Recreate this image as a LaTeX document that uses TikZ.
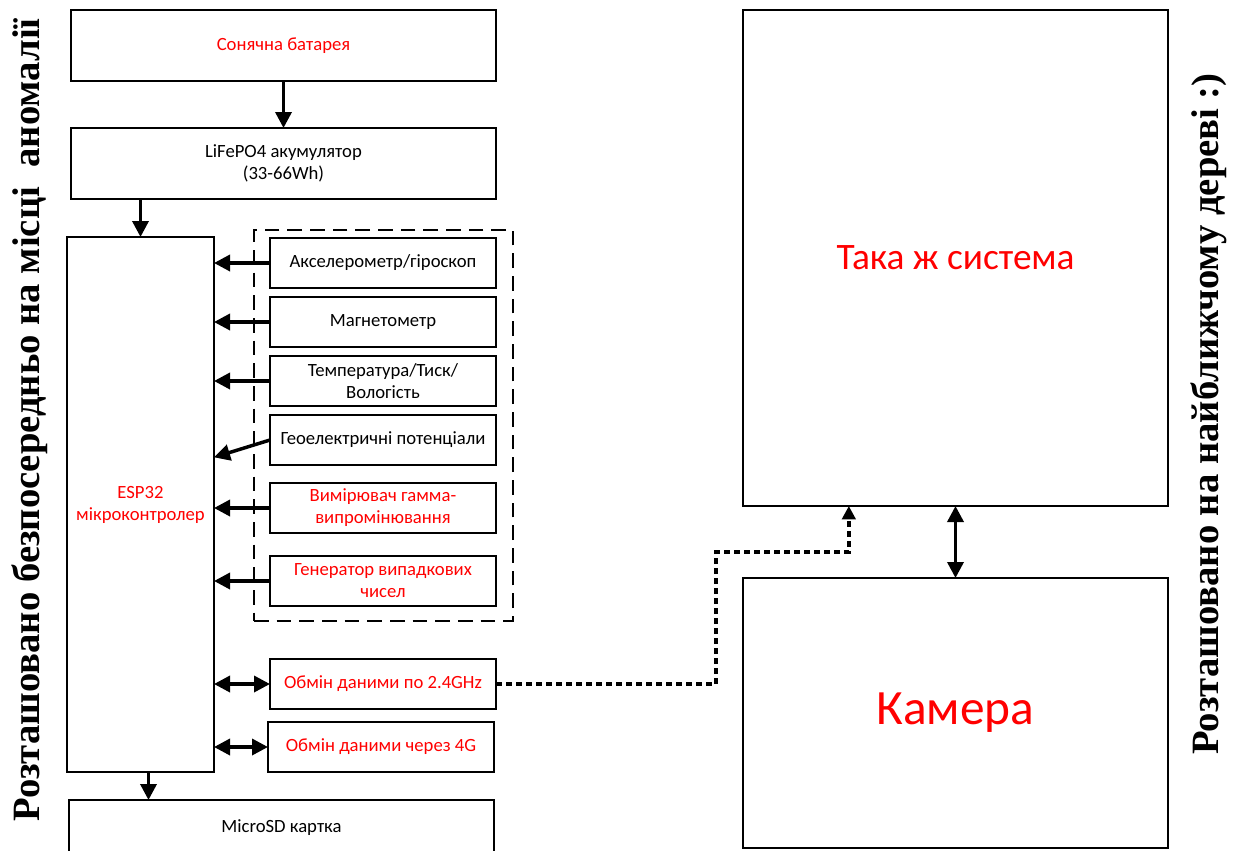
\documentclass[tikz,border=0pt]{standalone}
\usepackage{fontspec}
\setmainfont{Carlito}
\newfontfamily\titlefont{Liberation Serif}
\usepackage{tikz}
\usetikzlibrary{arrows.meta, positioning, fit}
\definecolor{LabelRed}{HTML}{FF0000}
\tikzset{
  blockbox/.style={rectangle, draw=black, line width=1.4pt, inner sep=2pt, outer sep=0pt, minimum width=318.75pt, minimum height=53.25pt, font=\fontsize{14}{16.5}\selectfont, align=center},
  sensorbox/.style={blockbox, minimum width=169.5pt, minimum height=37.5pt},
  redtext/.style={text=LabelRed},
  groupbox/.style={rectangle, draw=black, line width=1.3pt, dash pattern=on 11pt off 6pt, inner sep=0pt},
  arrow/.style={-{Triangle[length=12pt,width=12pt]}, line width=2.6pt},
  twoarrow/.style={{Triangle[length=12pt,width=12pt]}-{Triangle[length=12pt,width=12pt]}, line width=2.6pt},
  linkarrow/.style={-{Triangle[length=10pt,width=10pt]}, line width=2.6pt, dash pattern=on 4.5pt off 3pt},
  sidetitle/.style={rotate=90, anchor=base, font=\titlefont\bfseries\fontsize{29}{30}\selectfont}
}

\begin{document}
\begin{tikzpicture}[x=0.75pt, y=-0.75pt]
  \useasboundingbox (0,0) rectangle (1246,850);

  % power chain
  \node[blockbox, redtext] (solar) at (283.5,45.5) {Сонячна батарея};
  \node[blockbox, below=35.25pt of solar] (battery) {LiFePO4 акумулятор\\(33-66Wh)};
  \node[blockbox, redtext, minimum width=110.25pt, minimum height=401.25pt] (esp) at (140.5,504.5) {ESP32\\мікроконтролер};

  % sensors
  \node[sensorbox] (accel) at (383,263) {Акселерометр/гіроскоп};
  \node[sensorbox, below=6.75pt of accel] (magnet) {Магнетометр};
  \node[sensorbox, below=6.75pt of magnet] (climate) {Температура/Тиск/\\Вологість};
  \node[sensorbox, below=6.75pt of climate] (geo) {Геоелектричні потенціали};
  \node[sensorbox, redtext, below=13.5pt of geo] (gamma) {Вимірювач гамма-\\випромінювання};
  \node[sensorbox, redtext, below=17.25pt of gamma] (random) {Генератор випадкових\\чисел};
  \node[groupbox, fit={([xshift=-12pt,yshift=6pt]accel.north west) ([xshift=13pt,yshift=-11pt]random.south east)}] (sensors) {};

  % links and storage
  \node[sensorbox, redtext] (wifi) at (383,684) {Обмін даними по 2.4GHz};
  \node[sensorbox, redtext] (lte) at (381,747) {Обмін даними через 4G};
  \node[blockbox, minimum height=42pt] (sd) at (281.5,828) {MicroSD картка};

  % remote side
  \node[blockbox, redtext, minimum height=372pt, font=\fontsize{28}{30}\selectfont] (twin) at (955.5,258) {Така ж система};
  \node[blockbox, redtext, minimum height=202.5pt, font=\fontsize{37}{40}\selectfont] (camera) at (955.5,713) {Камера};

  \draw[arrow] (solar) -- (battery);
  \draw[arrow] (esp.north |- battery.south) -- (esp.north);
  \foreach \s in {accel, magnet, climate, gamma, random}
    \draw[arrow] (\s.west) -- (\s.west -| esp.east);
  \draw[arrow] (geo.west) -- ([yshift=-13pt]geo.west -| esp.east);
  \draw[twoarrow] (esp.east |- wifi.west) -- (wifi.west);
  \draw[twoarrow] (esp.east |- lte.west) -- (lte.west);
  \draw[arrow] ([xshift=6pt]esp.south) -- ([xshift=6pt]esp.south |- sd.north);
  \draw[twoarrow] (twin) -- (camera);

  \coordinate (bend) at (716,552);
  \draw[linkarrow] (wifi.east) -| (bend) -| ([xshift=-80pt]twin.south);

  % side notes
  \node[sidetitle] (sitehere) at (39,420) {Розташовано безпосередньо на місці\ \ аномалії};
  \node[sidetitle] (sitetree) at (1218,414) {Розташовано на найближчому дереві :)};
\end{tikzpicture}
\end{document}
